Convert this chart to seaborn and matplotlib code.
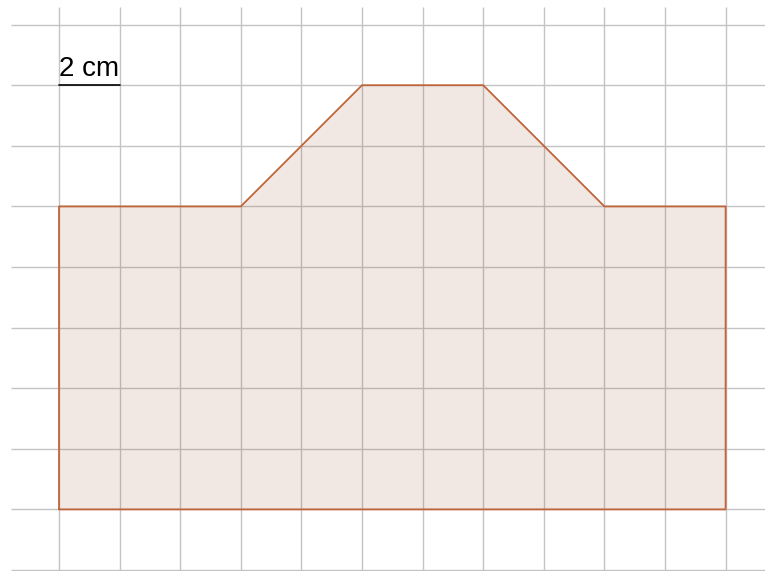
import matplotlib
matplotlib.use('Agg')
import matplotlib.pyplot as plt
import seaborn as sns
import pandas as pd

# shape outline (grid units, 1 unit = 2 cm)
poly_x = [0, 11, 11, 9, 7, 5, 3, 0, 0]
poly_y = [1, 1, 6, 6, 8, 8, 6, 6, 1]
grid_x = list(range(0, 12))
grid_y = list(range(0, 10))
scale_label = '2 cm'

sns.set_style('white')
plt.rcParams['font.family'] = ['Liberation Sans', 'DejaVu Sans']

fig = plt.figure(figsize=(7.65, 5.71), dpi=100)
ax = fig.add_axes([0, 0, 1, 1])
ax.set_xlim(-0.974, 11.65)
ax.set_ylim(-0.0165, 9.406)
ax.axis('off')

gc = '#c4c4c4'
ax.vlines(grid_x, 0, 9.29, color=gc, lw=1, zorder=1)
ax.hlines(grid_y, -0.79, 11.65, color=gc, lw=1, zorder=1)

shape = pd.DataFrame({'x': poly_x, 'y': poly_y})
ax.fill(shape['x'], shape['y'], facecolor=(0.58, 0.28, 0.12, 0.12), edgecolor='none', zorder=2)
sns.lineplot(data=shape, x='x', y='y', sort=False, estimator=None, color='#c0653a', lw=1.3, ax=ax, zorder=3)
ax.set_xlabel('')
ax.set_ylabel('')

# scale bar
sns.lineplot(x=[0, 1], y=[8, 8], color='black', lw=1.2, ax=ax, zorder=4)
ax.text(0, 8.05, scale_label, fontsize=20, ha='left', va='bottom', color='black')
ax.axis('off')

plt.savefig('out.png', dpi=100)
plt.close()
